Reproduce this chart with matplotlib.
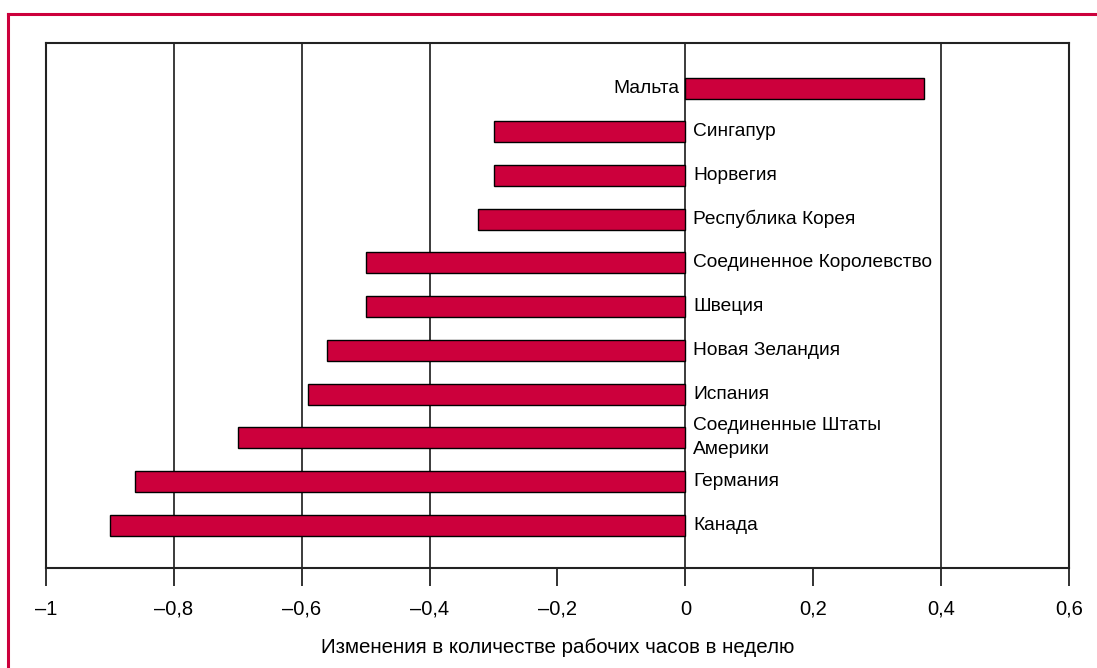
import numpy as np
import matplotlib.pyplot as plt
from matplotlib.lines import Line2D
from matplotlib.ticker import FuncFormatter

# data (top to bottom as in the chart)
countries = ['Мальта', 'Сингапур', 'Норвегия', 'Республика Корея',
             'Соединенное Королевство', 'Швеция', 'Новая Зеландия', 'Испания',
             'Соединенные Штаты\nАмерики', 'Германия', 'Канада']
changes = [0.373, -0.30, -0.30, -0.325, -0.50, -0.50, -0.56, -0.59, -0.70, -0.86, -0.90]
xticks = [-1, -0.8, -0.6, -0.4, -0.2, 0, 0.2, 0.4, 0.6]
grid_at = [-0.8, -0.6, -0.4, 0, 0.4]

plt.rcParams['font.family'] = ['Liberation Sans', 'DejaVu Sans']

red = '#CC003C'
fig = plt.figure(figsize=(10.97, 6.68), dpi=100)
ax = fig.add_axes([0.0419, 0.1497, 0.9326, 0.7859])

y = np.arange(len(countries))[::-1]
for g in grid_at:
    ax.axvline(g, color='#1a1a1a', lw=1.2, zorder=1)
ax.barh(y, changes, height=0.48, color=red, edgecolor='black', lw=1.0, zorder=3)

for yi, name, v in zip(y, countries, changes):
    if v >= 0:
        ax.text(-0.009, yi, name, ha='right', va='center', fontsize=13.8, zorder=4)
    else:
        ax.text(0.012, yi, name, ha='left', va='center', fontsize=13.8,
                linespacing=1.5, zorder=4)

ax.set_xlim(-1, 0.6)
ax.set_ylim(-0.98, 11.03)
ax.set_xticks(xticks)
ax.xaxis.set_major_formatter(FuncFormatter(
    lambda v, p: ('%g' % v).replace('-', '\u2013').replace('.', ',')))
ax.tick_params(axis='x', direction='out', length=13, width=1.3, pad=10,
               labelsize=14.5, color='#222222')
ax.set_yticks([])
for s in ax.spines.values():
    s.set_linewidth(1.5)
    s.set_color('#222222')
ax.set_xlabel('Изменения в количестве рабочих часов в неделю', fontsize=14.8, labelpad=14)

# red frame around the figure
fig.add_artist(Line2D([7.5 / 1097, 1], [1 - 13.5 / 668] * 2, color=red, lw=2.2,
                      transform=fig.transFigure))
fig.add_artist(Line2D([7.5 / 1097] * 2, [0, 1 - 13.5 / 668], color=red, lw=2.2,
                      transform=fig.transFigure))

fig.savefig('out.png', dpi=100)
